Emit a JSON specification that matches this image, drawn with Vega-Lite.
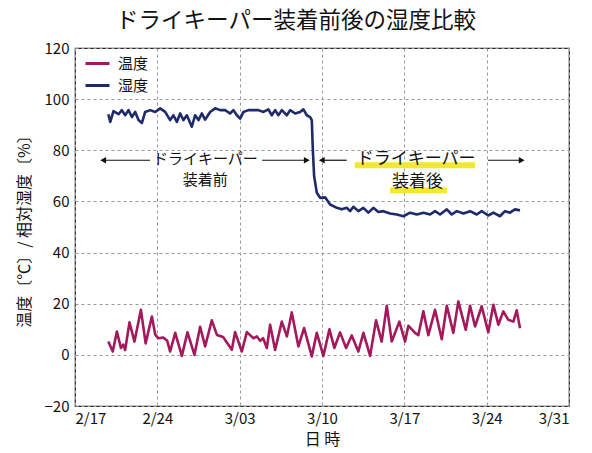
{
  "$schema": "https://vega.github.io/schema/vega-lite/v6.json",
  "width": 494,
  "height": 358,
  "autosize": {"type": "none"},
  "padding": {"left": 75, "top": 48, "right": 23, "bottom": 47},
  "background": "white",
  "title": {"text": "ドライキーパー装着前後の湿度比較", "fontSize": 22.5, "font": "Noto Sans CJK JP", "fontWeight": "normal", "color": "#111", "anchor": "middle", "frame": "group", "dx": -26, "offset": 9},
  "config": {
    "font": "Noto Sans CJK JP",
    "view": {"stroke": "#222", "strokeWidth": 1.2},
    "axis": {"gridColor": "#999", "gridDash": [3, 3], "gridWidth": 1, "domain": false, "ticks": false, "labelColor": "#111", "titleColor": "#111", "labelFontSize": 15, "titleFontSize": 16, "titleFontWeight": "normal"}
  },
  "datasets": {
    "series": [
      {"t":"2019-02-19T20:00","s":"温度","v":5.2},{"t":"2019-02-20T05:00","s":"温度","v":1.3},{"t":"2019-02-20T13:30","s":"温度","v":9.1},{"t":"2019-02-20T21:40","s":"温度","v":2.7},{"t":"2019-02-21T02:20","s":"温度","v":4},{"t":"2019-02-21T06:20","s":"温度","v":1.9},{"t":"2019-02-21T15:10","s":"温度","v":12.7},{"t":"2019-02-22T01:20","s":"温度","v":5.2},{"t":"2019-02-22T14:30","s":"温度","v":17.6},{"t":"2019-02-23T00:10","s":"温度","v":4.5},{"t":"2019-02-23T12:50","s":"温度","v":15},{"t":"2019-02-23T19:40","s":"温度","v":8},{"t":"2019-02-24T01:40","s":"温度","v":6.5},{"t":"2019-02-24T12:00","s":"温度","v":6.8},{"t":"2019-02-24T20:10","s":"温度","v":5.5},{"t":"2019-02-25T02:10","s":"温度","v":1.3},{"t":"2019-02-25T12:30","s":"温度","v":8.6},{"t":"2019-02-26T02:00","s":"温度","v":-0.4},{"t":"2019-02-26T13:30","s":"温度","v":8.8},{"t":"2019-02-27T03:50","s":"温度","v":0},{"t":"2019-02-27T15:20","s":"温度","v":11},{"t":"2019-02-28T01:30","s":"温度","v":3.3},{"t":"2019-02-28T15:10","s":"温度","v":13.5},{"t":"2019-03-01T01:30","s":"温度","v":7.8},{"t":"2019-03-01T14:10","s":"温度","v":7},{"t":"2019-03-02T08:00","s":"温度","v":2},{"t":"2019-03-02T14:40","s":"温度","v":8.9},{"t":"2019-03-03T04:20","s":"温度","v":1.3},{"t":"2019-03-03T14:40","s":"温度","v":8.9},{"t":"2019-03-04T04:10","s":"温度","v":6.5},{"t":"2019-03-04T11:00","s":"温度","v":7.2},{"t":"2019-03-04T17:50","s":"温度","v":5.5},{"t":"2019-03-04T23:50","s":"温度","v":6.5},{"t":"2019-03-05T07:30","s":"温度","v":2.7},{"t":"2019-03-05T14:10","s":"温度","v":11.8},{"t":"2019-03-06T00:20","s":"温度","v":1.9},{"t":"2019-03-06T14:00","s":"温度","v":13},{"t":"2019-03-07T00:20","s":"温度","v":7.2},{"t":"2019-03-07T10:20","s":"温度","v":16.6},{"t":"2019-03-07T23:50","s":"温度","v":3.3},{"t":"2019-03-08T11:30","s":"温度","v":10.5},{"t":"2019-03-09T03:10","s":"温度","v":-0.6},{"t":"2019-03-09T13:20","s":"温度","v":8.6},{"t":"2019-03-10T02:50","s":"温度","v":-0.4},{"t":"2019-03-10T15:10","s":"温度","v":10},{"t":"2019-03-11T01:10","s":"温度","v":2.7},{"t":"2019-03-11T12:50","s":"温度","v":8.8},{"t":"2019-03-12T01:10","s":"温度","v":2.7},{"t":"2019-03-12T12:40","s":"温度","v":7.6},{"t":"2019-03-13T02:10","s":"温度","v":1.3},{"t":"2019-03-13T12:30","s":"温度","v":8.6},{"t":"2019-03-14T02:10","s":"温度","v":-0.4},{"t":"2019-03-14T14:20","s":"温度","v":13.5},{"t":"2019-03-15T01:50","s":"温度","v":5.2},{"t":"2019-03-15T12:10","s":"温度","v":19.2},{"t":"2019-03-15T22:20","s":"温度","v":5.2},{"t":"2019-03-16T13:50","s":"温度","v":13},{"t":"2019-03-17T01:30","s":"温度","v":5.2},{"t":"2019-03-17T08:10","s":"温度","v":11.4},{"t":"2019-03-17T21:50","s":"温度","v":8.6},{"t":"2019-03-18T04:30","s":"温度","v":7.7},{"t":"2019-03-18T14:50","s":"温度","v":17},{"t":"2019-03-19T01:00","s":"温度","v":7.7},{"t":"2019-03-19T14:40","s":"温度","v":17.6},{"t":"2019-03-20T04:20","s":"温度","v":6.1},{"t":"2019-03-20T14:40","s":"温度","v":19.2},{"t":"2019-03-21T04:00","s":"温度","v":8.6},{"t":"2019-03-21T14:10","s":"温度","v":20.9},{"t":"2019-03-22T05:20","s":"温度","v":9.8},{"t":"2019-03-22T14:10","s":"温度","v":19.2},{"t":"2019-03-23T00:20","s":"温度","v":11.1},{"t":"2019-03-23T13:50","s":"温度","v":19},{"t":"2019-03-24T03:20","s":"温度","v":8.8},{"t":"2019-03-24T13:40","s":"温度","v":19.6},{"t":"2019-03-24T23:50","s":"温度","v":11.8},{"t":"2019-03-25T10:00","s":"温度","v":17},{"t":"2019-03-25T20:10","s":"温度","v":13.7},{"t":"2019-03-26T06:30","s":"温度","v":13},{"t":"2019-03-26T13:20","s":"温度","v":17.4},{"t":"2019-03-26T20:00","s":"温度","v":10.4},
      {"t":"2019-02-19T20:00","s":"湿度","v":94.1},{"t":"2019-02-20T00:00","s":"湿度","v":91.1},{"t":"2019-02-20T06:30","s":"湿度","v":95.3},{"t":"2019-02-20T16:45","s":"湿度","v":94.1},{"t":"2019-02-20T23:40","s":"湿度","v":95.7},{"t":"2019-02-21T06:25","s":"湿度","v":93.7},{"t":"2019-02-21T13:10","s":"湿度","v":95.7},{"t":"2019-02-21T20:05","s":"湿度","v":93},{"t":"2019-02-22T02:50","s":"湿度","v":95},{"t":"2019-02-22T09:35","s":"湿度","v":91.8},{"t":"2019-02-22T16:30","s":"湿度","v":90.7},{"t":"2019-02-22T23:15","s":"湿度","v":95},{"t":"2019-02-23T09:25","s":"湿度","v":95.7},{"t":"2019-02-23T19:40","s":"湿度","v":95},{"t":"2019-02-24T05:45","s":"湿度","v":96.4},{"t":"2019-02-24T16:00","s":"湿度","v":95},{"t":"2019-02-25T02:10","s":"湿度","v":91.8},{"t":"2019-02-25T08:50","s":"湿度","v":93.7},{"t":"2019-02-25T15:50","s":"湿度","v":91.1},{"t":"2019-02-25T22:35","s":"湿度","v":94.4},{"t":"2019-02-26T05:20","s":"湿度","v":91.8},{"t":"2019-02-26T12:15","s":"湿度","v":93.7},{"t":"2019-02-26T22:20","s":"湿度","v":89.2},{"t":"2019-02-27T05:05","s":"湿度","v":93.7},{"t":"2019-02-27T12:00","s":"湿度","v":91.8},{"t":"2019-02-27T18:45","s":"湿度","v":94.4},{"t":"2019-02-28T01:30","s":"湿度","v":92},{"t":"2019-02-28T11:45","s":"湿度","v":95},{"t":"2019-02-28T21:50","s":"湿度","v":96.4},{"t":"2019-03-01T08:10","s":"湿度","v":95.7},{"t":"2019-03-01T18:15","s":"湿度","v":95.7},{"t":"2019-03-02T04:30","s":"湿度","v":94.4},{"t":"2019-03-02T11:15","s":"湿度","v":95.7},{"t":"2019-03-02T18:15","s":"湿度","v":93.7},{"t":"2019-03-03T01:00","s":"湿度","v":92.4},{"t":"2019-03-03T07:40","s":"湿度","v":95},{"t":"2019-03-03T17:50","s":"湿度","v":95.7},{"t":"2019-03-04T04:05","s":"湿度","v":95.7},{"t":"2019-03-04T14:15","s":"湿度","v":95.7},{"t":"2019-03-05T00:30","s":"湿度","v":95},{"t":"2019-03-05T10:35","s":"湿度","v":96},{"t":"2019-03-05T17:35","s":"湿度","v":93.7},{"t":"2019-03-06T00:20","s":"湿度","v":95.7},{"t":"2019-03-06T07:00","s":"湿度","v":93.7},{"t":"2019-03-06T14:00","s":"湿度","v":95.7},{"t":"2019-03-07T00:15","s":"湿度","v":93.7},{"t":"2019-03-07T07:00","s":"湿度","v":95.7},{"t":"2019-03-07T17:05","s":"湿度","v":94.4},{"t":"2019-03-08T03:20","s":"湿度","v":95},{"t":"2019-03-08T10:05","s":"湿度","v":96},{"t":"2019-03-08T17:00","s":"湿度","v":93.7},{"t":"2019-03-08T23:45","s":"湿度","v":93},{"t":"2019-03-09T03:10","s":"湿度","v":91.8},{"t":"2019-03-09T05:15","s":"湿度","v":80.4},{"t":"2019-03-09T07:55","s":"湿度","v":69.9},{"t":"2019-03-09T13:25","s":"湿度","v":63.4},{"t":"2019-03-09T20:10","s":"湿度","v":61.4},{"t":"2019-03-10T06:20","s":"湿度","v":61.6},{"t":"2019-03-10T16:35","s":"湿度","v":58.8},{"t":"2019-03-11T06:15","s":"湿度","v":57.5},{"t":"2019-03-11T16:20","s":"湿度","v":56.9},{"t":"2019-03-12T02:40","s":"湿度","v":57.5},{"t":"2019-03-12T09:20","s":"湿度","v":56.2},{"t":"2019-03-12T16:05","s":"湿度","v":57.9},{"t":"2019-03-13T02:10","s":"湿度","v":56.2},{"t":"2019-03-13T12:25","s":"湿度","v":57.5},{"t":"2019-03-13T22:35","s":"湿度","v":55.6},{"t":"2019-03-14T08:50","s":"湿度","v":57.5},{"t":"2019-03-14T18:55","s":"湿度","v":55.9},{"t":"2019-03-15T05:10","s":"湿度","v":56.2},{"t":"2019-03-15T18:50","s":"湿度","v":55.3},{"t":"2019-03-16T08:30","s":"湿度","v":54.9},{"t":"2019-03-16T22:05","s":"湿度","v":54.2},{"t":"2019-03-17T11:45","s":"湿度","v":55.6},{"t":"2019-03-18T01:25","s":"湿度","v":54.9},{"t":"2019-03-18T14:55","s":"湿度","v":55.6},{"t":"2019-03-19T04:35","s":"湿度","v":54.9},{"t":"2019-03-19T14:40","s":"湿度","v":56.2},{"t":"2019-03-20T00:55","s":"湿度","v":54.9},{"t":"2019-03-20T14:35","s":"湿度","v":56.9},{"t":"2019-03-21T00:45","s":"湿度","v":54.9},{"t":"2019-03-21T11:00","s":"湿度","v":56.2},{"t":"2019-03-22T00:30","s":"湿度","v":55.3},{"t":"2019-03-22T14:10","s":"湿度","v":56.2},{"t":"2019-03-23T03:40","s":"湿度","v":54.9},{"t":"2019-03-23T13:55","s":"湿度","v":56.2},{"t":"2019-03-24T03:20","s":"湿度","v":54.5},{"t":"2019-03-24T13:40","s":"湿度","v":55.6},{"t":"2019-03-25T03:10","s":"湿度","v":54.2},{"t":"2019-03-25T13:25","s":"湿度","v":56.2},{"t":"2019-03-25T23:35","s":"湿度","v":55.6},{"t":"2019-03-26T09:50","s":"湿度","v":56.9},{"t":"2019-03-26T20:00","s":"湿度","v":56.5}
    ],
    "highlights": [
      {"t1":"2019-03-12T19:00","t2":"2019-03-23T00:00","v1":73,"v2":75.3},
      {"t1":"2019-03-15T18:40","t2":"2019-03-20T15:00","v1":63.2,"v2":65.4}
    ],
    "arrows": [
      {"t1":"2019-02-19T09:30","t2":"2019-02-23T09:00","v":76.1},
      {"t1":"2019-03-04T21:50","t2":"2019-03-08T17:00","v":76.1},
      {"t1":"2019-03-09T23:30","t2":"2019-03-12T02:30","v":76.1},
      {"t1":"2019-03-24T02:40","t2":"2019-03-26T23:30","v":76.1}
    ],
    "heads": [
      {"t":"2019-02-19T09:30","v":76.1,"d":"L"},
      {"t":"2019-03-08T17:00","v":76.1,"d":"R"},
      {"t":"2019-03-09T23:30","v":76.1,"d":"L"},
      {"t":"2019-03-26T23:30","v":76.1,"d":"R"}
    ],
    "labelsA": [
      {"t":"2019-02-28T02:00","v":76.7,"label":"ドライキーパー"},
      {"t":"2019-02-28T02:00","v":68.5,"label":"装着前"}
    ],
    "labelsB": [
      {"t":"2019-03-18T00:00","v":76.7,"label":"ドライキーパー"},
      {"t":"2019-03-18T03:00","v":67.6,"label":"装着後"}
    ]
  },
  "layer": [
    {
      "data": {"name": "highlights"},
      "mark": {"type": "rect", "color": "#f3e92c"},
      "encoding": {
        "x": {"field": "t1", "type": "temporal"},
        "x2": {"field": "t2"},
        "y": {"field": "v1", "type": "quantitative"},
        "y2": {"field": "v2"}
      }
    },
    {
      "data": {"name": "series"},
      "mark": {"type": "line", "strokeWidth": 2.6, "strokeJoin": "round"},
      "encoding": {
        "x": {"field": "t", "type": "temporal",
          "scale": {"domain": [{"year": 2019, "month": 2, "date": 17}, {"year": 2019, "month": 3, "date": 31}]},
          "axis": {"title": "日 時", "format": "%-m/%d", "grid": true, "labelPadding": 5, "titlePadding": 5,
            "values": [{"year": 2019, "month": 2, "date": 17}, {"year": 2019, "month": 2, "date": 24}, {"year": 2019, "month": 3, "date": 3}, {"year": 2019, "month": 3, "date": 10}, {"year": 2019, "month": 3, "date": 17}, {"year": 2019, "month": 3, "date": 24}, {"year": 2019, "month": 3, "date": 31}]}},
        "y": {"field": "v", "type": "quantitative",
          "scale": {"domain": [-20, 120], "nice": false},
          "axis": {"title": "温度〔℃〕/ 相対湿度〔%〕", "values": [-20, 0, 20, 40, 60, 80, 100, 120], "grid": true, "labelPadding": 6, "titlePadding": 12}},
        "color": {"field": "s", "type": "nominal",
          "scale": {"domain": ["温度", "湿度"], "range": ["#a3195b", "#1f2a6b"]},
          "legend": {"title": null, "orient": "none", "legendX": 9, "legendY": 2, "padding": 0, "symbolType": "stroke", "symbolSize": 576, "symbolStrokeWidth": 3, "labelFontSize": 15, "labelColor": "#111", "rowPadding": 0, "labelOffset": 7}}
      }
    },
    {
      "data": {"name": "arrows"},
      "mark": {"type": "rule", "color": "#111", "strokeWidth": 1.2},
      "encoding": {
        "x": {"field": "t1", "type": "temporal"},
        "x2": {"field": "t2"},
        "y": {"field": "v", "type": "quantitative"}
      }
    },
    {
      "data": {"name": "heads"},
      "mark": {"type": "point", "filled": true, "color": "#111", "size": 45, "opacity": 1},
      "encoding": {
        "x": {"field": "t", "type": "temporal"},
        "y": {"field": "v", "type": "quantitative"},
        "shape": {"field": "d", "type": "nominal", "scale": {"domain": ["L", "R"], "range": ["triangle-left", "triangle-right"]}, "legend": null}
      }
    },
    {
      "data": {"name": "labelsA"},
      "mark": {"type": "text", "fontSize": 15, "color": "#111", "baseline": "middle", "align": "center"},
      "encoding": {
        "x": {"field": "t", "type": "temporal"},
        "y": {"field": "v", "type": "quantitative"},
        "text": {"field": "label"}
      }
    },
    {
      "data": {"name": "labelsB"},
      "mark": {"type": "text", "fontSize": 17, "color": "#111", "baseline": "middle", "align": "center"},
      "encoding": {
        "x": {"field": "t", "type": "temporal"},
        "y": {"field": "v", "type": "quantitative"},
        "text": {"field": "label"}
      }
    }
  ]
}
